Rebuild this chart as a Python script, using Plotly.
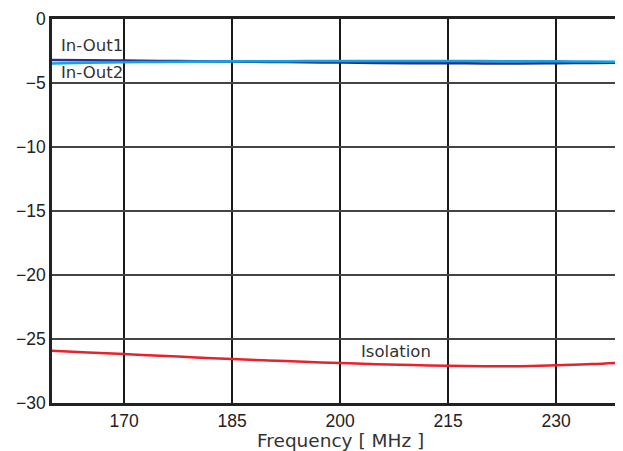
import plotly.graph_objects as go

freq = [160, 165, 170, 175, 180, 185, 190, 195, 200, 205, 210, 215, 220, 225, 230, 235, 240]
in_out1 = [-3.20, -3.22, -3.25, -3.28, -3.30, -3.33, -3.35, -3.38, -3.40, -3.43, -3.45, -3.46, -3.47, -3.47, -3.45, -3.43, -3.40]
in_out2 = [-3.47, -3.42, -3.38, -3.35, -3.32, -3.31, -3.30, -3.29, -3.29, -3.28, -3.28, -3.28, -3.29, -3.30, -3.31, -3.33, -3.36]
isolation = [-25.92, -26.05, -26.18, -26.31, -26.44, -26.57, -26.68, -26.78, -26.88, -26.97, -27.04, -27.09, -27.12, -27.12, -27.05, -26.96, -26.82]

x_ticks = [170, 185, 200, 215, 230]
y_ticks = [0, -5, -10, -15, -20, -25, -30]

fig = go.Figure()
fig.add_trace(go.Scatter(x=freq, y=in_out1, mode="lines", line=dict(color="#2b2e8c", width=2.5), line_shape="spline", showlegend=False))
fig.add_trace(go.Scatter(x=freq, y=in_out2, mode="lines", line=dict(color="#12a3e3", width=2.5), line_shape="spline", showlegend=False))
fig.add_trace(go.Scatter(x=freq, y=isolation, mode="lines", line=dict(color="#e8212b", width=2.5), line_shape="spline", showlegend=False))

lab_font = dict(family="DejaVu Sans", size=16.5, color="#333333")
fig.add_annotation(x=161, y=-2.09, text="In-Out1", showarrow=False, xanchor="left", yanchor="middle", font=lab_font)
fig.add_annotation(x=161, y=-4.2, text="In-Out2", showarrow=False, xanchor="left", yanchor="middle", font=lab_font)
fig.add_annotation(x=202.6, y=-26.0, text="Isolation", showarrow=False, xanchor="left", yanchor="middle", font=lab_font)
fig.add_annotation(x=200, xref="x", y=0, yref="paper", yshift=-37, text="Frequency [ MHz ]", showarrow=False,
                   xanchor="center", yanchor="middle", font=dict(family="DejaVu Sans", size=18.5, color="#333333"))

fig.update_layout(
    width=623, height=451,
    margin=dict(l=44, r=0, t=11, b=56, autoexpand=False),
    paper_bgcolor="white", plot_bgcolor="white",
    font=dict(family="Liberation Sans", size=17.5, color="#222222"),
)
fig.update_xaxes(range=[160, 240.4], tickvals=x_ticks, ticktext=[str(v) for v in x_ticks],
                 showgrid=True, gridcolor="#1a1a1a", gridwidth=1.5,
                 showline=True, linecolor="#222222", linewidth=2.5, mirror=True,
                 ticks="", zeroline=False, automargin=False)
fig.update_yaxes(range=[-30, 0], tickvals=y_ticks,
                 showgrid=True, gridcolor="#444444", gridwidth=1.5,
                 showline=True, linecolor="#222222", linewidth=2.5, mirror=False,
                 ticks="", zeroline=False, automargin=False)

fig.write_html("out.html")
